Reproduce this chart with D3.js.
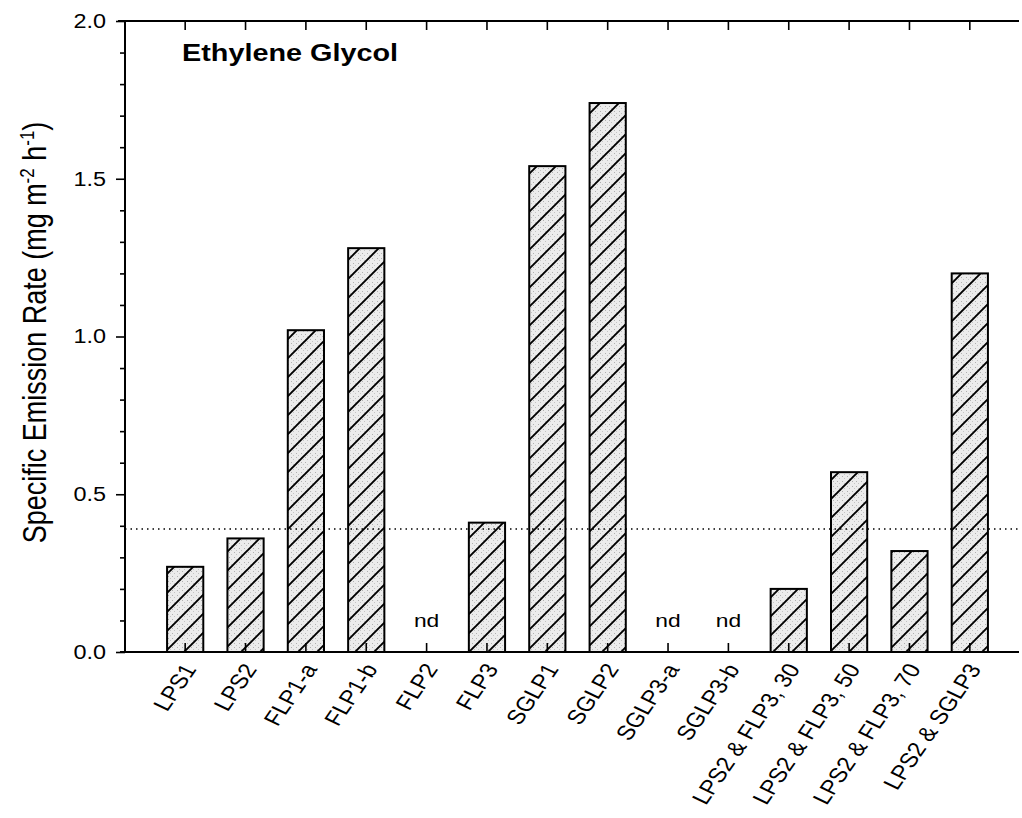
<!DOCTYPE html>
<html>
<head>
<meta charset="utf-8">
<script src="https://cdn.jsdelivr.net/npm/d3@7"></script>
<style>
  html, body { margin: 0; padding: 0; background: #fff; }
  svg { display: block; font-family: "Liberation Sans", Arial, sans-serif; }
</style>
</head>
<body>
<svg id="chart" width="1022" height="818"></svg>
<script>
// Sample names along the x axis
const categories = ["LPS1", "LPS2", "FLP1-a", "FLP1-b", "FLP2", "FLP3", "SGLP1", "SGLP2",
  "SGLP3-a", "SGLP3-b", "LPS2 & FLP3, 30", "LPS2 & FLP3, 50", "LPS2 & FLP3, 70", "LPS2 & SGLP3"];
// Specific emission rates (mg m-2 h-1); null = not detected
const values = [0.27, 0.36, 1.02, 1.28, null, 0.41, 1.54, 1.74, null, null, 0.20, 0.57, 0.32, 1.20];
// Reference level drawn as a dotted horizontal line
const referenceLevel = [0.39];
// Y axis tick labels
const yTicks = [0.0, 0.5, 1.0, 1.5, 2.0];
const yMinorTicks = [0.1, 0.2, 0.3, 0.4, 0.6, 0.7, 0.8, 0.9, 1.1, 1.2, 1.3, 1.4, 1.6, 1.7, 1.8, 1.9];

const svg = d3.select("#chart");
const plotLeft = 125, plotRight = 1019, plotTop = 21, plotBottom = 652;
// Text in this figure is set a little wide
const stretch = 1.2;

const x = d3.scaleBand().domain(categories).range([155, 1000]).paddingInner(0.4).paddingOuter(0.2);
const y = d3.scaleLinear().domain([0, 2]).range([plotBottom, plotTop]);

// Hatched, lightly stippled fill for the bars
const defs = svg.append("defs");
const stip = defs.append("pattern").attr("id", "stipple").attr("patternUnits", "userSpaceOnUse")
  .attr("width", 5).attr("height", 5);
stip.append("rect").attr("width", 5).attr("height", 5).attr("fill", "#ececec");
stip.append("rect").attr("x", 1).attr("y", 1).attr("width", 1).attr("height", 1).attr("fill", "#b0b0b0");
stip.append("rect").attr("x", 3).attr("y", 3).attr("width", 1).attr("height", 1).attr("fill", "#c4c4c4");
const hatch = defs.append("pattern").attr("id", "hatch").attr("patternUnits", "userSpaceOnUse")
  .attr("width", 19).attr("height", 19);
hatch.append("rect").attr("width", 19).attr("height", 19).attr("fill", "url(#stipple)");
hatch.append("path").attr("d", "M-2,2 L2,-2 M0,19 L19,0 M17,21 L21,17")
  .attr("stroke", "#000").attr("stroke-width", 1.9);

// Bars
const barData = categories.map((c, i) => ({ c, v: values[i] }));
svg.append("g").selectAll("rect").data(barData.filter(d => d.v !== null)).join("rect")
  .attr("x", d => x(d.c))
  .attr("y", d => y(d.v))
  .attr("width", x.bandwidth())
  .attr("height", d => y(0) - y(d.v))
  .attr("fill", "url(#hatch)")
  .attr("stroke", "#000").attr("stroke-width", 2);

// "nd" markers for non-detects
svg.append("g").selectAll("text").data(barData.filter(d => d.v === null)).join("text")
  .attr("transform", d => `translate(${x(d.c) + x.bandwidth() / 2},${y(0.1) + 7}) scale(${stretch},1)`)
  .attr("text-anchor", "middle")
  .attr("font-size", 19)
  .text("nd");

// Dotted reference line
svg.append("g").selectAll("line").data(referenceLevel).join("line")
  .attr("x1", plotLeft).attr("x2", plotRight)
  .attr("y1", d => y(d)).attr("y2", d => y(d))
  .attr("stroke", "#000").attr("stroke-width", 1.5).attr("stroke-dasharray", "1.5,4");

// Left axis: major and minor ticks
const yAxis = svg.append("g").attr("transform", `translate(${plotLeft},0)`)
  .call(d3.axisLeft(y).tickValues(yTicks).tickSize(9).tickFormat(d3.format(".1f")));
yAxis.select(".domain").remove();
yAxis.selectAll("line").attr("stroke-width", 1.6);
yAxis.selectAll("text")
  .attr("font-size", 19.5).attr("fill", "#000")
  .attr("x", null)
  .attr("transform", `translate(-19,0) scale(${stretch},1)`);
const yMinor = svg.append("g").attr("transform", `translate(${plotLeft},0)`)
  .call(d3.axisLeft(y).tickValues(yMinorTicks).tickSize(5).tickFormat(""));
yMinor.select(".domain").remove();
yMinor.selectAll("line").attr("stroke-width", 1.6);

// Top axis: inward ticks only
const topAxis = svg.append("g").attr("transform", `translate(0,${plotTop})`)
  .call(d3.axisTop(x).tickSize(-9).tickFormat(""));
topAxis.select(".domain").remove();
topAxis.selectAll("line").attr("stroke-width", 1.6);

// Bottom axis: inward ticks and slanted category labels
const xAxis = svg.append("g").attr("transform", `translate(0,${plotBottom})`)
  .call(d3.axisBottom(x).tickSize(-9));
xAxis.select(".domain").remove();
xAxis.selectAll("line").attr("stroke-width", 1.6);
xAxis.selectAll("text")
  .attr("font-size", 20.5).attr("fill", "#000")
  .attr("text-anchor", "end")
  .attr("x", 0).attr("y", 0).attr("dy", 0)
  .attr("transform", `translate(12,17) scale(${stretch},1) rotate(-60)`);

// Frame lines (left, top, bottom)
const frame = svg.append("g").attr("stroke", "#000").attr("stroke-width", 2);
frame.append("line").attr("x1", plotLeft).attr("x2", plotLeft).attr("y1", plotTop).attr("y2", plotBottom);
frame.append("line").attr("x1", 118).attr("x2", plotRight).attr("y1", plotTop).attr("y2", plotTop);
frame.append("line").attr("x1", 120).attr("x2", plotRight).attr("y1", plotBottom).attr("y2", plotBottom);

// Title inside the plot
svg.append("text")
  .attr("transform", `translate(182,61) scale(${stretch},1)`)
  .attr("font-size", 24).attr("font-weight", "bold").text("Ethylene Glycol");

// Y axis title with superscripts
const yl = svg.append("text")
  .attr("transform", `translate(46,${(plotTop + plotBottom) / 2 - 4}) scale(${stretch},1) rotate(-90)`)
  .attr("text-anchor", "middle").attr("font-size", 27);
yl.append("tspan").text("Specific Emission Rate (mg m");
yl.append("tspan").attr("dy", -10).attr("font-size", 17).text("-2");
yl.append("tspan").attr("dy", 10).text(" h");
yl.append("tspan").attr("dy", -10).attr("font-size", 17).text("-1");
yl.append("tspan").attr("dy", 10).text(")");
</script>
</body>
</html>
